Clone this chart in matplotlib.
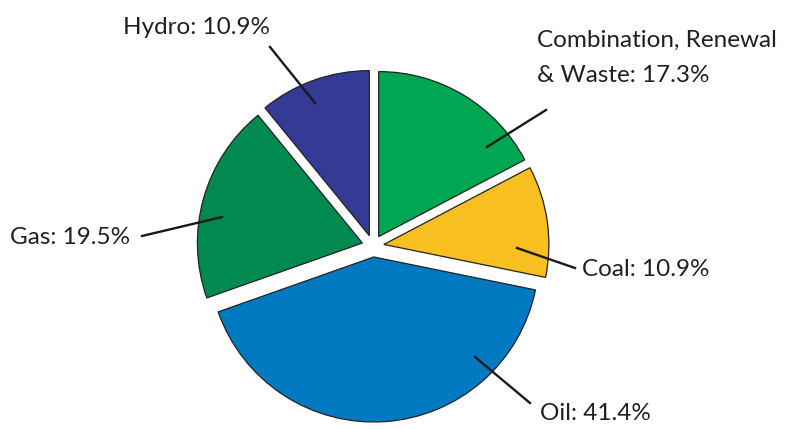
import numpy as np
import matplotlib.pyplot as plt

# energy mix by source, clockwise from the top
sources = ['Combination, Renewal\n& Waste', 'Coal', 'Oil', 'Gas', 'Hydro']
shares = [17.3, 10.9, 41.4, 19.5, 10.9]
colors = ['#00a651', '#f7bf1f', '#0079c1', '#008a4f', '#353a94']

W, H = 788, 429
fig = plt.figure(figsize=(W / 100, H / 100), dpi=100)
ax = fig.add_axes([0, 0, 1, 1])

cx, cy, r = 373, H - 246, 165
# explode is in data units here (pixels)
wedges, _ = ax.pie(shares, colors=colors, startangle=90, counterclock=False,
                   center=(cx, cy), radius=r, explode=[11] * len(shares),
                   wedgeprops=dict(edgecolor='#222222', linewidth=0.9))
ax.set_xlim(0, W)
ax.set_ylim(0, H)
ax.set_aspect('equal')
ax.axis('off')

# leader lines: (start inside slice) -> (end near label), pixel coords from top
leaders = [((487, 147), (546, 110)),
           ((517, 248), (575, 268)),
           ((475, 357), (530, 403)),
           ((222, 217), (142, 236)),
           ((315, 103), (270, 47))]
# label anchors and alignment
label_pos = [((537, 58), 'left'),
             ((582, 270), 'left'),
             ((540, 414), 'left'),
             ((130, 238), 'right'),
             ((197, 28), 'center')]

font = dict(family=['Lato', 'DejaVu Sans'], fontsize=17.5, color='#231f20')
for name, val, (p0, p1), ((tx, ty), ha) in zip(sources, shares, leaders, label_pos):
    ax.plot([p0[0], p1[0]], [H - p0[1], H - p1[1]], color='#1a1a1a', lw=1.7)
    ax.text(tx, H - ty, f'{name}: {val}%', ha=ha, va='center',
            linespacing=1.8, **font)

fig.savefig('out.png', dpi=100)
